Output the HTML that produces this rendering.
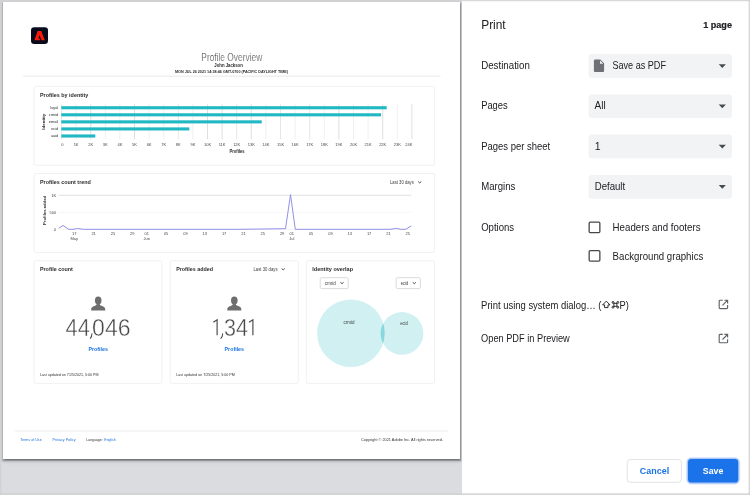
<!DOCTYPE html>
<html>
<head>
<meta charset="utf-8">
<title>Print</title>
<style>
*{box-sizing:border-box;margin:0;padding:0}
html,body{width:750px;height:495px;overflow:hidden;background:#fff}
body{font-family:"Liberation Sans",sans-serif;position:relative;color:#202124}
#preview{position:absolute;left:0;top:0;width:462.3px;height:495px;background:#dadce0;overflow:hidden}
#page{position:absolute;left:2.7px;top:1.9px;width:457.5px;height:456.7px;background:#fff;box-shadow:0 1.300px 1.500px 1.500px rgba(0,0,0,.28),0 .5px 1px rgba(0,0,0,.2),0 2px 4px 1px rgba(0,0,0,.07)}
#panel{position:absolute;left:462.3px;top:0;width:287.700px;height:495px;background:#fff}
#ink{position:absolute;left:0;top:0;width:750px;height:495px;font-family:"Liberation Sans",sans-serif;will-change:transform}
#ink text{font-family:"Liberation Sans",sans-serif;white-space:pre}
#frame{position:absolute;left:0;top:0;width:750px;height:495px;box-shadow:inset 0 -.2px 1.400px 1.200px #d0d0d0;pointer-events:none}
</style>
</head>
<body>
<div id="preview"><div id="page"></div></div>
<div id="panel"></div>
<svg id="ink" width="750" height="495" viewBox="0 0 750 495">
<rect x="31.0" y="27.3" width="17.0" height="16.7" fill="#070b1c" rx="3.3"/>
<path transform="translate(34.4 31.1)" fill-rule="evenodd" d="M3.2 0H6.85L10.5 9.2H0ZM5.1 3.9L6.25 7L7 9.2H5.75L5.25 7.3H3.95Z" fill="#fa1a0a"/>
<text x="201.3" y="60.8" font-size="10.4" fill="#4e4e4e" textLength="60.9" lengthAdjust="spacingAndGlyphs" stroke="#fff" stroke-width="0.18">Profile Overview</text>
<text x="214.3" y="66.7" font-size="5.5" font-weight="bold" fill="#1e1e1e" textLength="28.5" lengthAdjust="spacingAndGlyphs">John Jackson</text>
<text x="175" y="72.9" font-size="3.5" font-weight="bold" fill="#2a2a2a" textLength="113" lengthAdjust="spacingAndGlyphs">MON JUL 26 2021 14:38:46 GMT-0700 (PACIFIC DAYLIGHT TIME)</text>
<line x1="23.3" y1="76.2" x2="440.5" y2="76.2" stroke="#dedede" stroke-width="0.7"/>
<rect x="34.1" y="86.4" width="400.5" height="78.9" rx="1.6" fill="#fff" stroke="#ececec" stroke-width="0.75"/>
<text x="40" y="97" font-size="6.0" font-weight="bold" fill="#2c2c2c" textLength="48.3" lengthAdjust="spacingAndGlyphs">Profiles by identity</text>
<line x1="61.5" y1="104.3" x2="61.5" y2="139.4" stroke="#d6d6d6" stroke-width="0.6"/>
<text x="62.3" y="145.8" font-size="4.0" fill="#474747" text-anchor="middle">0</text>
<line x1="76.1" y1="104.3" x2="76.1" y2="139.4" stroke="#e4e4e4" stroke-width="0.6"/>
<text x="76.1" y="145.8" font-size="4.0" fill="#474747" text-anchor="middle">1K</text>
<line x1="90.7" y1="104.3" x2="90.7" y2="139.4" stroke="#c9c9c9" stroke-width="0.6"/>
<text x="90.7" y="145.8" font-size="4.0" fill="#474747" text-anchor="middle">2K</text>
<line x1="105.3" y1="104.3" x2="105.3" y2="139.4" stroke="#e4e4e4" stroke-width="0.6"/>
<text x="105.3" y="145.8" font-size="4.0" fill="#474747" text-anchor="middle">3K</text>
<line x1="119.9" y1="104.3" x2="119.9" y2="139.4" stroke="#e4e4e4" stroke-width="0.6"/>
<text x="119.9" y="145.8" font-size="4.0" fill="#474747" text-anchor="middle">4K</text>
<line x1="134.5" y1="104.3" x2="134.5" y2="139.4" stroke="#c9c9c9" stroke-width="0.6"/>
<text x="134.5" y="145.8" font-size="4.0" fill="#474747" text-anchor="middle">5K</text>
<line x1="149.1" y1="104.3" x2="149.1" y2="139.4" stroke="#e4e4e4" stroke-width="0.6"/>
<text x="149.1" y="145.8" font-size="4.0" fill="#474747" text-anchor="middle">6K</text>
<line x1="163.7" y1="104.3" x2="163.7" y2="139.4" stroke="#e4e4e4" stroke-width="0.6"/>
<text x="163.7" y="145.8" font-size="4.0" fill="#474747" text-anchor="middle">7K</text>
<line x1="178.3" y1="104.3" x2="178.3" y2="139.4" stroke="#d6d6d6" stroke-width="0.6"/>
<text x="178.3" y="145.8" font-size="4.0" fill="#474747" text-anchor="middle">8K</text>
<line x1="192.9" y1="104.3" x2="192.9" y2="139.4" stroke="#e4e4e4" stroke-width="0.6"/>
<text x="192.9" y="145.8" font-size="4.0" fill="#474747" text-anchor="middle">9K</text>
<line x1="207.5" y1="104.3" x2="207.5" y2="139.4" stroke="#c9c9c9" stroke-width="0.6"/>
<text x="207.5" y="145.8" font-size="4.0" fill="#474747" text-anchor="middle">10K</text>
<line x1="222.1" y1="104.3" x2="222.1" y2="139.4" stroke="#c9c9c9" stroke-width="0.6"/>
<text x="222.1" y="145.8" font-size="4.0" fill="#474747" text-anchor="middle">11K</text>
<line x1="236.7" y1="104.3" x2="236.7" y2="139.4" stroke="#d6d6d6" stroke-width="0.6"/>
<text x="236.7" y="145.8" font-size="4.0" fill="#474747" text-anchor="middle">12K</text>
<line x1="251.3" y1="104.3" x2="251.3" y2="139.4" stroke="#c9c9c9" stroke-width="0.6"/>
<text x="251.3" y="145.8" font-size="4.0" fill="#474747" text-anchor="middle">13K</text>
<line x1="265.9" y1="104.3" x2="265.9" y2="139.4" stroke="#e4e4e4" stroke-width="0.6"/>
<text x="265.9" y="145.8" font-size="4.0" fill="#474747" text-anchor="middle">14K</text>
<line x1="280.5" y1="104.3" x2="280.5" y2="139.4" stroke="#d6d6d6" stroke-width="0.6"/>
<text x="280.5" y="145.8" font-size="4.0" fill="#474747" text-anchor="middle">15K</text>
<line x1="295.1" y1="104.3" x2="295.1" y2="139.4" stroke="#e4e4e4" stroke-width="0.6"/>
<text x="295.1" y="145.8" font-size="4.0" fill="#474747" text-anchor="middle">16K</text>
<line x1="309.7" y1="104.3" x2="309.7" y2="139.4" stroke="#d6d6d6" stroke-width="0.6"/>
<text x="309.7" y="145.8" font-size="4.0" fill="#474747" text-anchor="middle">17K</text>
<line x1="324.3" y1="104.3" x2="324.3" y2="139.4" stroke="#e4e4e4" stroke-width="0.6"/>
<text x="324.3" y="145.8" font-size="4.0" fill="#474747" text-anchor="middle">18K</text>
<line x1="338.9" y1="104.3" x2="338.9" y2="139.4" stroke="#c9c9c9" stroke-width="0.6"/>
<text x="338.9" y="145.8" font-size="4.0" fill="#474747" text-anchor="middle">19K</text>
<line x1="353.5" y1="104.3" x2="353.5" y2="139.4" stroke="#e4e4e4" stroke-width="0.6"/>
<text x="353.5" y="145.8" font-size="4.0" fill="#474747" text-anchor="middle">20K</text>
<line x1="368.1" y1="104.3" x2="368.1" y2="139.4" stroke="#e4e4e4" stroke-width="0.6"/>
<text x="368.1" y="145.8" font-size="4.0" fill="#474747" text-anchor="middle">21K</text>
<line x1="382.7" y1="104.3" x2="382.7" y2="139.4" stroke="#c9c9c9" stroke-width="0.6"/>
<text x="382.7" y="145.8" font-size="4.0" fill="#474747" text-anchor="middle">22K</text>
<line x1="397.3" y1="104.3" x2="397.3" y2="139.4" stroke="#e4e4e4" stroke-width="0.6"/>
<text x="397.3" y="145.8" font-size="4.0" fill="#474747" text-anchor="middle">23K</text>
<line x1="411.9" y1="104.3" x2="411.9" y2="139.4" stroke="#c9c9c9" stroke-width="0.6"/>
<text x="408.9" y="145.8" font-size="4.0" fill="#474747" text-anchor="middle">24K</text>
<rect x="61.3" y="106.2" width="325.4" height="3.1" fill="#1fb8c3"/>
<text x="58.2" y="109.0" font-size="4.1" fill="#2e2e2e" text-anchor="end" textLength="7.9" lengthAdjust="spacingAndGlyphs">loyal</text>
<rect x="61.3" y="113.26" width="319.7" height="3.1" fill="#1fb8c3"/>
<text x="58.2" y="116.06" font-size="4.1" fill="#2e2e2e" text-anchor="end" textLength="9.5" lengthAdjust="spacingAndGlyphs">crmid</text>
<rect x="61.3" y="120.32" width="200.4" height="3.1" fill="#1fb8c3"/>
<text x="58.2" y="123.12" font-size="4.1" fill="#2e2e2e" text-anchor="end" textLength="9.5" lengthAdjust="spacingAndGlyphs">email</text>
<rect x="61.3" y="127.38" width="128.0" height="3.1" fill="#1fb8c3"/>
<text x="58.2" y="130.18" font-size="4.1" fill="#2e2e2e" text-anchor="end" textLength="7.0" lengthAdjust="spacingAndGlyphs">ecid</text>
<rect x="61.3" y="134.44" width="34.0" height="3.1" fill="#1fb8c3"/>
<text x="58.2" y="137.24" font-size="4.1" fill="#2e2e2e" text-anchor="end" textLength="7.0" lengthAdjust="spacingAndGlyphs">aaid</text>
<text x="237" y="152.8" font-size="4.8" font-weight="bold" fill="#2c2c2c" text-anchor="middle" textLength="15.2" lengthAdjust="spacingAndGlyphs">Profiles</text>
<text transform="translate(45.4 121.8) rotate(-90)" text-anchor="middle" font-size="4.3" font-weight="bold" fill="#2c2c2c" textLength="16" lengthAdjust="spacingAndGlyphs">Identity</text>
<rect x="34.1" y="173.5" width="400.5" height="79.1" rx="1.6" fill="#fff" stroke="#ececec" stroke-width="0.75"/>
<text x="40" y="184.3" font-size="6.0" font-weight="bold" fill="#2c2c2c" textLength="50.8" lengthAdjust="spacingAndGlyphs">Profiles count trend</text>
<text x="390" y="183.9" font-size="5.0" fill="#3c3c3c" textLength="23.8" lengthAdjust="spacingAndGlyphs">Last 30 days</text>
<path d="M418.100 181.500l1.600 1.400 1.600-1.400" fill="none" stroke="#3c3c3c" stroke-width="0.9"/>
<line x1="58.7" y1="195.3" x2="411.4" y2="195.3" stroke="#d2d2d2" stroke-width="0.7"/>
<line x1="58.7" y1="212.3" x2="411.4" y2="212.3" stroke="#f2f2f2" stroke-width="0.7"/>
<line x1="58.7" y1="229.5" x2="411.4" y2="229.5" stroke="#ececec" stroke-width="0.6"/>
<text x="56.2" y="196.7" font-size="4.0" fill="#474747" text-anchor="end">1K</text>
<text x="56.2" y="213.7" font-size="4.0" fill="#474747" text-anchor="end">500</text>
<text x="56.2" y="230.7" font-size="4.0" fill="#474747" text-anchor="end">0</text>
<text transform="translate(45.7 210.4) rotate(-90)" text-anchor="middle" font-size="4.3" font-weight="bold" fill="#2c2c2c" textLength="29" lengthAdjust="spacingAndGlyphs">Profiles added</text>
<polyline fill="none" stroke="#8a8ae6" stroke-width="0.95" stroke-linejoin="round" points="58.7,228.2 63,225.5 68.7,229.3 73,229.3 77.5,228.5 83.3,229.3 240,229.3 285.5,228.7 290.5,194.7 295.3,229.3 390,229.3 396.7,228.4 400.5,229.3 405.8,229.3 411.3,225.8"/>
<text x="74.3" y="235.1" font-size="4.0" fill="#474747" text-anchor="middle">17</text>
<text x="74.3" y="240.3" font-size="4.0" fill="#474747" text-anchor="middle">May</text>
<text x="93.63" y="235.1" font-size="4.0" fill="#474747" text-anchor="middle">21</text>
<text x="112.97" y="235.1" font-size="4.0" fill="#474747" text-anchor="middle">25</text>
<text x="132.3" y="235.1" font-size="4.0" fill="#474747" text-anchor="middle">29</text>
<text x="146.8" y="235.1" font-size="4.0" fill="#474747" text-anchor="middle">01</text>
<text x="146.8" y="240.3" font-size="4.0" fill="#474747" text-anchor="middle">Jun</text>
<text x="166.13" y="235.1" font-size="4.0" fill="#474747" text-anchor="middle">05</text>
<text x="185.47" y="235.1" font-size="4.0" fill="#474747" text-anchor="middle">09</text>
<text x="204.8" y="235.1" font-size="4.0" fill="#474747" text-anchor="middle">13</text>
<text x="224.13" y="235.1" font-size="4.0" fill="#474747" text-anchor="middle">17</text>
<text x="243.47" y="235.1" font-size="4.0" fill="#474747" text-anchor="middle">21</text>
<text x="262.8" y="235.1" font-size="4.0" fill="#474747" text-anchor="middle">25</text>
<text x="282.13" y="235.1" font-size="4.0" fill="#474747" text-anchor="middle">29</text>
<text x="291.8" y="235.1" font-size="4.0" fill="#474747" text-anchor="middle">01</text>
<text x="291.8" y="240.3" font-size="4.0" fill="#474747" text-anchor="middle">Jul</text>
<text x="311.13" y="235.1" font-size="4.0" fill="#474747" text-anchor="middle">05</text>
<text x="330.46" y="235.1" font-size="4.0" fill="#474747" text-anchor="middle">09</text>
<text x="349.8" y="235.1" font-size="4.0" fill="#474747" text-anchor="middle">13</text>
<text x="369.13" y="235.1" font-size="4.0" fill="#474747" text-anchor="middle">17</text>
<text x="388.46" y="235.1" font-size="4.0" fill="#474747" text-anchor="middle">21</text>
<text x="407.8" y="235.1" font-size="4.0" fill="#474747" text-anchor="middle">25</text>
<rect x="34.1" y="260.7" width="127.8" height="122.7" rx="1.6" fill="#fff" stroke="#ececec" stroke-width="0.75"/>
<rect x="170.2" y="260.7" width="128.1" height="122.7" rx="1.6" fill="#fff" stroke="#ececec" stroke-width="0.75"/>
<rect x="306.3" y="260.7" width="128.2" height="122.7" rx="1.6" fill="#fff" stroke="#ececec" stroke-width="0.75"/>
<text x="39.9" y="271.3" font-size="6.0" font-weight="bold" fill="#2c2c2c" textLength="33" lengthAdjust="spacingAndGlyphs">Profile count</text>
<g fill="#6e6e6e" transform="translate(98.2 296.5)"><ellipse cx="0" cy="4" rx="3.3" ry="3.9"/><path d="M-7 14v-1.6c0-1.5 1.3-2.3 3.2-3l1.6-.7c.6-.3.7-.8.7-1.7h3c0 .9.100 1.400.7 1.700l1.600.7c1.900.7 3.200 1.500 3.200 3V14z"/></g>
<text x="98.2" y="351.3" font-size="6.1" font-weight="bold" fill="#1b74e4" text-anchor="middle" textLength="19.4" lengthAdjust="spacingAndGlyphs">Profiles</text>
<text x="39.9" y="376.3" font-size="4.4" fill="#333" textLength="58.6" lengthAdjust="spacingAndGlyphs">Last updated on 7/25/2021, 5:00 PM</text>
<text x="65.5" y="335.5" font-size="24.2" fill="#484848" textLength="24.34" lengthAdjust="spacingAndGlyphs" stroke="#fff" stroke-width="0.42">44</text>
<path d="M91.9 333.7Q91.80000000000001 336.60 90.4 338.3" fill="none" stroke="#484848" stroke-width="1.05" stroke-linecap="round"/>
<text x="92.1" y="335.5" font-size="24.2" fill="#484848" textLength="38.41" lengthAdjust="spacingAndGlyphs" stroke="#fff" stroke-width="0.42">046</text>
<text x="176.2" y="271.3" font-size="6.0" font-weight="bold" fill="#2c2c2c" textLength="36.8" lengthAdjust="spacingAndGlyphs">Profiles added</text>
<g fill="#6e6e6e" transform="translate(234.3 296.5)"><ellipse cx="0" cy="4" rx="3.3" ry="3.9"/><path d="M-7 14v-1.6c0-1.5 1.3-2.3 3.2-3l1.6-.7c.6-.3.7-.8.7-1.7h3c0 .9.100 1.400.7 1.700l1.600.7c1.900.7 3.200 1.500 3.200 3V14z"/></g>
<text x="234.3" y="351.3" font-size="6.1" font-weight="bold" fill="#1b74e4" text-anchor="middle" textLength="19.4" lengthAdjust="spacingAndGlyphs">Profiles</text>
<text x="176.2" y="376.3" font-size="4.4" fill="#333" textLength="58.6" lengthAdjust="spacingAndGlyphs">Last updated on 7/25/2021, 5:00 PM</text>
<path d="M213.3 322.3L217.1 319.75V335.3" fill="none" stroke="#484848" stroke-width="1.15" stroke-linejoin="miter"/>
<path d="M222.7 333.7Q222.6 336.70 220.8 338.5" fill="none" stroke="#484848" stroke-width="1.05" stroke-linecap="round"/>
<text x="224.08" y="335.5" font-size="24.2" fill="#484848" textLength="23.95" lengthAdjust="spacingAndGlyphs" stroke="#fff" stroke-width="0.42">34</text>
<path d="M249.0 322.3L252.9 319.75V335.3" fill="none" stroke="#484848" stroke-width="1.15" stroke-linejoin="miter"/>
<text x="253.5" y="270.9" font-size="5.0" fill="#3c3c3c" textLength="24.1" lengthAdjust="spacingAndGlyphs">Last 30 days</text>
<path d="M281.600 268.500l1.600 1.400 1.600-1.400" fill="none" stroke="#3c3c3c" stroke-width="0.9"/>
<text x="312.3" y="271.3" font-size="6.0" font-weight="bold" fill="#2c2c2c" textLength="40.7" lengthAdjust="spacingAndGlyphs">Identity overlap</text>
<rect x="320.2" y="277.700" width="28" height="10.900" rx="1.500" fill="#fff" stroke="#cfcfcf" stroke-width="0.75"/>
<rect x="396.100" y="277.700" width="24.300" height="10.900" rx="1.500" fill="#fff" stroke="#cfcfcf" stroke-width="0.75"/>
<text x="324.8" y="284.5" font-size="4.7" fill="#3c3c3c" textLength="11" lengthAdjust="spacingAndGlyphs">crmid</text>
<text x="400.8" y="284.5" font-size="4.7" fill="#3c3c3c" textLength="7.5" lengthAdjust="spacingAndGlyphs">ecid</text>
<path d="M340.400 282.300l1.600 1.400 1.600-1.400" fill="none" stroke="#3c3c3c" stroke-width="0.9"/>
<path d="M412.750 282.300l1.600 1.400 1.600-1.400" fill="none" stroke="#3c3c3c" stroke-width="0.9"/>
<clipPath id="cb"><circle cx="350.900" cy="333.200" r="33.800"/></clipPath>
<circle cx="350.900" cy="333.200" r="33.800" fill="#d1f0f2"/>
<circle cx="402" cy="333.400" r="21.400" fill="#d1f0f2"/>
<circle cx="402" cy="333.400" r="21.400" fill="#86d8dd" clip-path="url(#cb)"/>
<text x="349.1" y="323.7" font-size="4.6" fill="#3c3c3c" text-anchor="middle" textLength="11.0" lengthAdjust="spacingAndGlyphs">crmid</text>
<text x="404" y="324.5" font-size="4.6" fill="#3c3c3c" text-anchor="middle" textLength="7.6" lengthAdjust="spacingAndGlyphs">ecid</text>
<line x1="15" y1="431" x2="448.6" y2="431" stroke="#ebebeb" stroke-width="0.9"/>
<text x="20.3" y="440.7" font-size="3.7" fill="#1a6ddd" textLength="21.4" lengthAdjust="spacingAndGlyphs">Terms of Use</text>
<text x="52.5" y="440.7" font-size="3.7" fill="#1a6ddd" textLength="23" lengthAdjust="spacingAndGlyphs">Privacy Policy</text>
<text x="86.3" y="440.7" font-size="3.7" fill="#333" textLength="16.4" lengthAdjust="spacingAndGlyphs">Language:</text>
<text x="104.3" y="440.7" font-size="3.7" fill="#1a6ddd" textLength="11.5" lengthAdjust="spacingAndGlyphs">English</text>
<text x="361" y="440.8" font-size="3.9" fill="#333" textLength="81.9" lengthAdjust="spacingAndGlyphs">Copyright © 2021 Adobe Inc. All rights reserved.</text>
<text x="481.2" y="28.5" font-size="12.4" fill="#202124" textLength="24.5" lengthAdjust="spacingAndGlyphs">Print</text>
<text x="732" y="27.9" font-size="9.9" font-weight="bold" fill="#202124" text-anchor="end" textLength="28.8" lengthAdjust="spacingAndGlyphs" stroke="#202124" stroke-width="0.22">1 page</text>
<text x="481.2" y="69.0" font-size="10.5" fill="#202124" textLength="48.6" lengthAdjust="spacingAndGlyphs">Destination</text>
<text x="481.2" y="109.4" font-size="10.5" fill="#202124" textLength="26.5" lengthAdjust="spacingAndGlyphs">Pages</text>
<text x="481.2" y="150.0" font-size="10.5" fill="#202124" textLength="68.9" lengthAdjust="spacingAndGlyphs">Pages per sheet</text>
<text x="481.2" y="190.3" font-size="10.5" fill="#202124" textLength="34.1" lengthAdjust="spacingAndGlyphs">Margins</text>
<text x="481.2" y="230.5" font-size="10.5" fill="#202124" textLength="32.9" lengthAdjust="spacingAndGlyphs">Options</text>
<rect x="588.6" y="54.1" width="143.4" height="23.7" fill="#f1f3f4" rx="3"/>
<path d="M718.700 64.20h7.200l-3.600 3.700z" fill="#474b50"/>
<rect x="588.6" y="94.4" width="143.4" height="23.7" fill="#f1f3f4" rx="3"/>
<path d="M718.700 104.50h7.200l-3.600 3.700z" fill="#474b50"/>
<rect x="588.6" y="134.6" width="143.4" height="23.7" fill="#f1f3f4" rx="3"/>
<path d="M718.700 144.70h7.200l-3.600 3.700z" fill="#474b50"/>
<rect x="588.6" y="175.0" width="143.4" height="23.7" fill="#f1f3f4" rx="3"/>
<path d="M718.700 185.10h7.200l-3.600 3.700z" fill="#474b50"/>
<path d="M595.200 59.500h5.100l3.800 3.800v7.500c0 .7-.6 1.300-1.300 1.300h-7.600c-.7 0-1.300-.6-1.300-1.300v-10c0-.7.600-1.300 1.300-1.300z" fill="#6d7176"/><path d="M600 60.400v3.300h3.300z" fill="#f1f3f4"/>
<text x="612.4" y="69.2" font-size="10.5" fill="#202124" textLength="53.6" lengthAdjust="spacingAndGlyphs">Save as PDF</text>
<text x="594.5" y="109.4" font-size="10.5" fill="#202124" textLength="11.1" lengthAdjust="spacingAndGlyphs">All</text>
<text x="594.8" y="150.0" font-size="10.5" fill="#202124">1</text>
<text x="594.7" y="190.3" font-size="10.5" fill="#202124" textLength="30.5" lengthAdjust="spacingAndGlyphs">Default</text>
<rect x="589.150" y="222.15" width="10.700" height="10.500" rx="1.150" fill="#fff" stroke="#44474b" stroke-width="1.300"/>
<rect x="589.150" y="250.65" width="10.700" height="10.500" rx="1.150" fill="#fff" stroke="#44474b" stroke-width="1.300"/>
<text x="612.6" y="231.0" font-size="10.5" fill="#202124" textLength="87.9" lengthAdjust="spacingAndGlyphs">Headers and footers</text>
<text x="612.6" y="259.6" font-size="10.5" fill="#202124" textLength="90.7" lengthAdjust="spacingAndGlyphs">Background graphics</text>
<text x="481.1" y="308.5" font-size="10.5" fill="#202124" textLength="120.3" lengthAdjust="spacingAndGlyphs">Print using system dialog… (</text>
<path d="M606.300 301.200l3.700 3.700h-2v2.700h-3.400v-2.700h-2z" fill="none" stroke="#202124" stroke-width="0.95" stroke-linejoin="round"/>
<g fill="none" stroke="#202124" stroke-width="0.95"><rect x="613.900" y="303.300" width="3" height="3"/><circle cx="613" cy="302.400" r="0.950"/><circle cx="617.800" cy="302.400" r="0.950"/><circle cx="613" cy="307.200" r="0.950"/><circle cx="617.800" cy="307.200" r="0.950"/></g>
<text x="619.6" y="308.5" font-size="10.5" fill="#202124" textLength="9.3" lengthAdjust="spacingAndGlyphs">P)</text>
<text x="481.1" y="341.7" font-size="10.5" fill="#202124" textLength="88.7" lengthAdjust="spacingAndGlyphs">Open PDF in Preview</text>
<g transform="translate(718.600 299.6)" fill="none" stroke="#5f6368" stroke-width="1.150"><path d="M4.200 .6H1.500c-.5 0-.9.400-.9.900v6.600c0 .5.400.9.900.9h6.600c.5 0 .9-.4.900-.9V5.400"/><path d="M5.800.6H9V3.800M9 .6L3.900 5.700"/></g>
<g transform="translate(718.600 333.8)" fill="none" stroke="#5f6368" stroke-width="1.150"><path d="M4.200 .6H1.500c-.5 0-.9.400-.9.900v6.600c0 .5.400.9.900.9h6.600c.5 0 .9-.4.900-.9V5.400"/><path d="M5.800.6H9V3.800M9 .6L3.900 5.700"/></g>
<rect x="627.200" y="459.500" width="54.200" height="22.800" rx="3.200" fill="#fff" stroke="#dee0e4" stroke-width="0.9"/>
<text x="654.5" y="474.0" font-size="9.9" font-weight="bold" fill="#1a73e8" text-anchor="middle" textLength="29.3" lengthAdjust="spacingAndGlyphs">Cancel</text>
<rect x="686" y="457.100" width="54.200" height="27.500" rx="5.400" fill="#dbe7fd"/>
<rect x="686.900" y="458" width="52.400" height="25.700" rx="4.500" fill="#a8c6f8"/>
<rect x="688" y="459.100" width="50.200" height="23.500" rx="3.400" fill="#1a73e8"/>
<text x="713.05" y="474.0" font-size="9.9" font-weight="bold" fill="#fff" text-anchor="middle" textLength="20.5" lengthAdjust="spacingAndGlyphs">Save</text>
</svg>
<div id="frame"></div>
</body>
</html>
